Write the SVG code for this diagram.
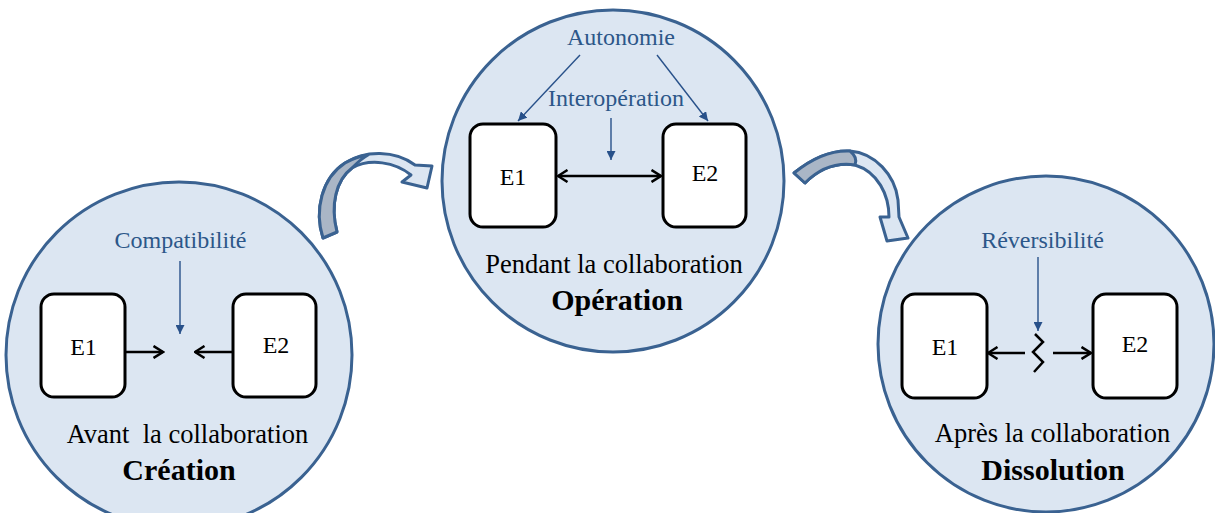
<svg xmlns="http://www.w3.org/2000/svg" width="1215" height="513" viewBox="0 0 1215 513">
<style>
.circle{fill:#dce6f2;stroke:#3a6291;stroke-width:3}
.box{fill:#fff;stroke:#000;stroke-width:3}
text{font-family:"Liberation Serif","DejaVu Serif",serif}
.t{fill:#000;text-anchor:middle}
.e{font-size:24px}
.sub{font-size:26.5px}
.title{font-size:30px;font-weight:bold}
.lbl{fill:#2c5789;text-anchor:middle;font-size:24px}
.blk{stroke:#000;stroke-width:2.5;fill:none}
.blu{stroke:#28518a;stroke-width:1.4;fill:none}
.rib{fill:#dce6f2;stroke:#3a6291;stroke-width:3;stroke-linejoin:round}
.ribg{fill:#aab6c6;stroke:#3a6291;stroke-width:3;stroke-linejoin:round}
</style>
<defs>
<marker id="open" viewBox="0 0 12 14" refX="10.5" refY="7" markerWidth="12" markerHeight="14" markerUnits="userSpaceOnUse" orient="auto-start-reverse">
<path d="M1,1 L10.5,7 L1,13" fill="none" stroke="#000" stroke-width="2.5"/>
</marker>
<marker id="blue" viewBox="0 0 10 10" refX="10" refY="5" markerWidth="9" markerHeight="9" markerUnits="userSpaceOnUse" orient="auto">
<path d="M0,0 L10,5 L0,10 Z" fill="#28518a"/>
</marker>
</defs>

<g id="transition-arrows">
<path class="rib" d="M323,238 C314,210 322,178 345,163 C365,150 395,150 415,165 L432,166 L427,188 L402,182 L411,175 C395,162 370,158 352,168 C336,180 330,205 337,232 Z"/>
<path class="ribg" d="M323,238 C314,210 322,178 345,163 C352,159 360,156 368,155 C362,158 357,163 352,168 C336,180 330,205 337,232 Z"/>
<path class="rib" d="M794,173 C810,160 830,150 850,151 C875,153 895,175 898,200 L899,217 L908,238 L887,241 L880,217 L889,217 C889,195 878,172 855,165 C835,162 818,170 805,183 Z"/>
<path class="ribg" d="M794,173 C810,160 830,150 850,151 C855,155 857,160 855,165 C835,162 818,170 805,183 Z"/>
</g>

<g id="creation">
<circle class="circle" cx="179" cy="355" r="173"/>
<text class="lbl" x="180.5" y="248" font-family="Liberation Serif, DejaVu Serif, serif">Compatibilité</text>
<g id="creation-e1"><rect class="box" x="41" y="294" width="84" height="103" rx="13"/><text class="t e" x="83.5" y="355">E1</text></g>
<g id="creation-e2"><rect class="box" x="233" y="294" width="83" height="103" rx="13"/><text class="t e" x="276" y="353">E2</text></g>
<text class="t sub" x="187.5" y="443" xml:space="preserve">Avant  la collaboration</text>
<text class="t title" x="179" y="480">Création</text>
</g>

<g id="operation">
<circle class="circle" cx="613" cy="181" r="171"/>
<text class="lbl" x="621" y="45">Autonomie</text>
<text class="lbl" x="616" y="106">Interopération</text>
<g id="operation-e1"><rect class="box" x="470" y="124" width="86" height="103" rx="13"/><text class="t e" x="513" y="185">E1</text></g>
<g id="operation-e2"><rect class="box" x="663" y="124" width="83" height="103" rx="13"/><text class="t e" x="705" y="181">E2</text></g>
<text class="t sub" x="614" y="273">Pendant la collaboration</text>
<text class="t title" x="617" y="310">Opération</text>
</g>

<g id="dissolution">
<circle class="circle" cx="1046" cy="344" r="168"/>
<text class="lbl" x="1042.5" y="248">Réversibilité</text>
<g id="dissolution-e1"><rect class="box" x="902" y="294" width="85" height="104" rx="13"/><text class="t e" x="945" y="355">E1</text></g>
<g id="dissolution-e2"><rect class="box" x="1093" y="294" width="84" height="104" rx="13"/><text class="t e" x="1135" y="352">E2</text></g>
<text class="t sub" x="1052.5" y="442">Après la collaboration</text>
<text class="t title" x="1053" y="480">Dissolution</text>
</g>

<g id="connectors">
<line class="blu" x1="180" y1="261" x2="180" y2="334" marker-end="url(#blue)"/>
<line class="blk" x1="126" y1="352" x2="163" y2="352" marker-end="url(#open)"/>
<line class="blk" x1="232" y1="352" x2="195" y2="352" marker-end="url(#open)"/>
<line class="blu" x1="580" y1="55" x2="518" y2="121" marker-end="url(#blue)"/>
<line class="blu" x1="657" y1="55" x2="708" y2="121" marker-end="url(#blue)"/>
<line class="blu" x1="611" y1="118" x2="611" y2="160" marker-end="url(#blue)"/>
<line class="blk" x1="558" y1="176" x2="661" y2="176" marker-start="url(#open)" marker-end="url(#open)"/>
<line class="blu" x1="1038" y1="257" x2="1038" y2="331" marker-end="url(#blue)"/>
<polyline class="blk" points="1035,334 1043,342 1033,352 1043,362 1034,372" stroke-width="2.2"/>
<line class="blk" x1="1025" y1="353" x2="988" y2="353" marker-end="url(#open)"/>
<line class="blk" x1="1053" y1="353" x2="1091" y2="353" marker-end="url(#open)"/>
</g>
</svg>
